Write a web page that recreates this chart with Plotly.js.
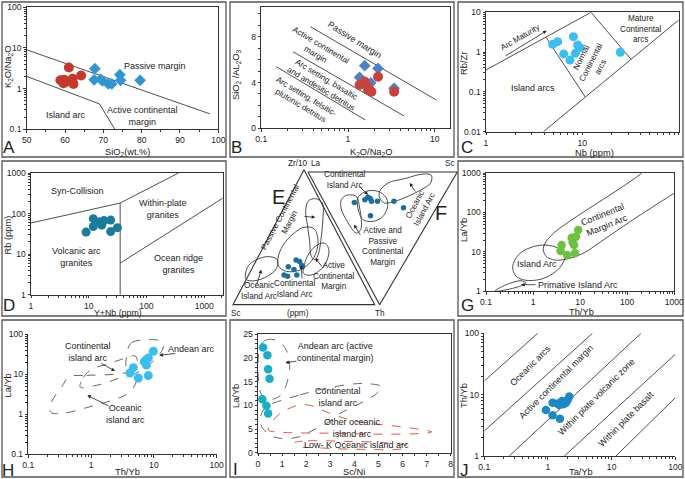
<!DOCTYPE html>
<html><head><meta charset="utf-8">
<script src="https://cdn.plot.ly/plotly-3.0.1.min.js"></script>
<style>html,body{margin:0;padding:0;background:#fff}#chart{width:685px;height:479px}</style>
</head><body><div id="chart"></div>
<script>
const F = 'Liberation Sans, Arial, sans-serif';
const W = 685, H = 479;

// ================= DATA =================
// A: SiO2 vs K2O/Na2O
const A_redSiO2 = [61.0, 58.8, 59.8, 59.6, 62.0, 62.2, 64.2, 60.2];
const A_redK2ONa2O = [3.3, 1.6, 1.65, 1.35, 1.75, 1.3, 2.1, 1.45];
const A_blueSiO2 = [67.8, 67.6, 69.3, 69.8, 71.3, 72.2, 74.3, 74.5, 79.6];
const A_blueK2ONa2O = [3.1, 1.65, 1.7, 1.55, 1.3, 1.3, 2.2, 1.6, 1.6];
const A_upperX = [50, 97.8], A_upperY = [9, 0.24];
const A_lowerX = [50, 69, 73], A_lowerY = [2.0, 0.42, 0.1];
const A_xTicks = [50, 60, 70, 80, 90, 100];
const A_yTicks = [0.1, 1, 10, 100], A_yText = ['0.1', '1', '10', '100'];

// B: K2O/Na2O vs SiO2/Al2O3
const B_blueK2ONa2O = [1.56, 2.22, 1.36, 1.83, 3.4];
const B_blueSiAl = [5.47, 5.23, 4.45, 3.98, 3.49];
const B_redK2ONa2O = [2.22, 1.36, 1.56, 1.70, 1.86, 1.75, 3.4];
const B_redSiAl = [4.5, 3.78, 4.07, 3.34, 3.2, 3.5, 3.2];
const B_line1X = [0.37, 10.45], B_line1Y = [8.87, 2.47];
const B_line2X = [0.232, 4.43], B_line2Y = [6.69, 1.08];
const B_line3X = [0.149, 1.585], B_line3Y = [5.38, 0.73];
const B_xTicks = [0.1, 1, 10], B_xText = ['0.1', '1', '10'];
const B_yTicks = [0, 4, 8];

// C: Nb vs Rb/Zr
const C_Nb = [4.92, 5.55, 6.4, 7.45, 8.07, 8.46, 8.95, 9.46, 24.8];
const C_RbZr = [1.57, 1.83, 0.9, 0.63, 2.44, 0.93, 1.51, 1.29, 0.99];
const C_l1X = [1, 12.3], C_l1Y = [0.355, 10];
const C_l2X = [4.2, 10.7], C_l2Y = [2.35, 0.075];
const C_l3X = [12.3, 32], C_l3Y = [10, 0.66];
const C_l4X = [3.94, 100], C_l4Y = [0.01, 6.4];
const C_xTicks = [1, 10, 100], C_xText = ['1', '10', '100'];
const C_yTicks = [0.01, 0.1, 1, 10], C_yText = ['0.01', '0.1', '1', '10'];

// D: Y+Nb vs Rb
const D_YNb = [9.0, 12.0, 12.0, 15.7, 16.8, 18.4, 24, 24, 31.4];
const D_Rb = [35, 75, 48, 63, 52, 67, 69, 36, 45];
const D_synX = [1, 35, 359], D_synY = [58.5, 182, 1000];
const D_vertX = [35, 35], D_vertY = [182, 1];
const D_orgX = [35, 2100], D_orgY = [6.0, 240];
const D_ticks = [1, 10, 100, 1000], D_text = ['1', '10', '100', '1000'];

// E: Zr/10 - Th - Sc ternary (percent)
const E_Zr = [33, 32, 29, 28, 28, 26, 22, 21, 22];
const E_Th = [28, 31, 34, 35, 25, 30, 25, 28, 34];
const E_Sc = [39, 37, 37, 37, 47, 44, 53, 51, 44];
// F: La - Th - Sc ternary (percent)
const F_La = [57, 51, 50, 48, 46, 42, 31, 22, 41];
const F_Th = [23, 21, 19, 20, 22, 22, 22, 27, 33];
const F_Sc = [20, 28, 31, 32, 32, 36, 47, 51, 26];
// field outlines (diagram units)
const E_passiveX = [240,262,283,285,280,272,262,250,245,238,233,240];
const E_passiveY = [130,122,135,180,235,285,305,295,250,200,160,130];
const E_contIAX = [150,165,195,228,258,270,262,240,210,175,152,150];
const E_contIAY = [300,262,228,208,212,245,290,320,338,340,325,300];
const E_oceanicX = [52,62,92,125,148,145,118,80,55,52];
const E_oceanicY = [352,322,302,296,305,332,355,368,365,352];
const E_activeX = [226,238,262,288,302,296,272,243,226,226];
const E_activeY = [335,295,265,255,272,310,340,352,345,335];
const F_oceanicX = [455,480,530,585,610,608,580,540,500,470,455,455];
const F_oceanicY = [100,75,62,48,52,75,95,115,130,135,120,100];
const F_contIAX = [390,415,450,475,478,462,435,405,392,388,390];
const F_contIAY = [118,100,100,120,150,178,190,185,160,135,118];
const F_actPasX = [340,355,385,395,400,398,385,370,355,342,338,340];
const F_actPasY = [125,112,115,150,185,215,225,210,185,160,140,125];

// G: Th/Yb vs La/Yb
const G_ThYb = [4.05, 3.85, 5.3, 7.76, 6.6, 8.15, 6.93, 7.4, 9.1];
const G_LaYb = [14.9, 10.5, 8.3, 9.2, 22.8, 24.2, 17.4, 14.9, 35.7];
const G_cmaX = [202,114,43,13.7,5.2,2.7,1.79,1.65,1.95,2.92,5.2,11.6,30.9,114,356,977];
const G_cmaY = [980,601,277,115,53,29.5,16.4,11.1,7.5,6.2,6.6,9.2,20,58,140,305];
const G_iaX = [0.369,0.485,0.86,1.79,3.43,4.75,4.05,2.68,1.40,0.673,0.434,0.369];
const G_iaY = [4.19,8.3,12.7,14.9,12.3,8.0,4.6,2.85,2.0,1.92,2.43,4.19];
const G_piaX = [0.157,0.266,0.553,0.706,0.509,0.266,0.178,0.157];
const G_piaY = [1.03,1.46,1.85,1.61,1.33,1.09,1.01,1.03];
const G_xTicks = [0.1, 1, 10, 100, 1000], G_xText = ['0.1', '1', '10', '100', '1000'];
const G_yTicks = [1, 10, 100, 1000], G_yText = ['1', '10', '100', '1000'];

// H: Th/Yb vs La/Yb
const H_ThYb = [4.16, 4.7, 5.65, 7.0, 7.6, 7.5, 8.15, 8.15, 9.8];
const H_LaYb = [10.8, 14.6, 8.1, 20.5, 17.0, 23.0, 25.5, 9.3, 37.6];
const H_andeanX = [3.83,4.43,6.79,11.8,14.2,13.8,12.2,9.2,6.0,4.43,3.6,3.69,3.83];
const H_andeanY = [42.2,61.9,72.2,70.8,59.6,42.2,31.6,19.6,12.1,10,16.2,28.7,42.2];
const H_contX = [0.665,0.751,1.02,1.77,3.07,5.0,5.45,4.43,2.88,1.77,1.09,0.708,0.665];
const H_contY = [4.9,8.3,13.3,17.8,23.7,28.7,21.5,12.1,8.3,6.2,5.1,4.6,4.9];
const H_oceX = [0.434,0.85,2.0,4.17,5.32,4.71,3.69,2.0,0.85,0.361,0.235,0.216,0.266,0.361,0.434];
const H_oceY = [8.6,9.4,9.8,10.6,8.3,4.6,3.16,2.15,1.47,1.06,1.1,1.47,2.87,5.6,8.6];
const H_ticks = [0.1, 1, 10, 100], H_text = ['0.1', '1', '10', '100'];

// I: Sc/Ni vs La/Yb
const I_ScNi = [0.21, 0.39, 0.42, 0.48, 0.18, 0.35, 0.42];
const I_LaYb = [22.2, 20.6, 17.6, 15.6, 11.3, 9.9, 8.3];
const I_andeanX = [0.138,0.346,0.623,0.969,1.246,1.315,1.176,0.969,0.692,0.346,0.138,0.028,0,0.028,0.138];
const I_andeanY = [22.9,23.8,23.9,23.1,20.8,17.6,14.4,12.3,11.4,11.3,12.3,14.8,18.3,21.1,22.9];
const I_contX = [0.498,1.744,3.128,4.374,5.135,4.927,4.235,3.405,2.851,2.298,1.744,0.983,0.498,0.152,0.083,0.2,0.498];
const I_contY = [10.1,12.2,13.9,14.6,13.9,12.5,10.4,8.3,6.2,4.8,3.4,3.0,3.7,5.5,6.9,8.8,10.1];
const I_otherX = [0.429,0.637,1.052,1.744,2.228,3.128,4.235,5.896,6.865,7.211,6.865,5.204,3.46,1.52,0.69,0.429];
const I_otherY = [4.8,6.9,8.7,10.1,9.9,8.0,6.5,5.5,4.8,4.4,4.1,3.9,4.1,4.2,4.4,4.8];
const I_lowKX = [1.52,2.076,3.6,5.26,6.23,6.02,4.29,2.63,1.66,1.52];
const I_lowKY = [2.1,2.5,2.4,2.1,1.4,0.85,0.7,1.0,1.4,2.1];

// J: Ta/Yb vs Th/Yb
const J_TaYb = [0.93, 1.18, 1.18, 1.42, 1.50, 1.54, 1.66, 1.74, 1.92, 2.04, 2.16];
const J_ThYb = [5.6, 7.4, 4.6, 7.2, 6.8, 4.06, 7.9, 7.0, 7.4, 8.2, 9.3];
const J_l1X = [0.1, 0.69], J_l1Y = [16.7, 100];
const J_l2X = [0.1, 5.0], J_l2Y = [2.56, 100];
const J_l3X = [0.247, 28.9], J_l3Y = [1, 100];
const J_l4X = [1.81, 100], J_l4Y = [1, 45.5];
const J_l5X = [11.7, 100], J_l5Y = [1, 8.9];
const J_xTicks = [0.1, 1, 10, 100], J_xText = ['0.1', '1', '10', '100'];
const J_yTicks = [1, 10, 100], J_yText = ['1', '10', '100'];

// ================= HELPERS =================
const dx = (a, b) => [a / W, b / W];
const dy = (top, bot) => [1 - bot / H, 1 - top / H];
function lin(x, y, xa, ya, o) {
  const t = {type:'scatter', mode:'lines', x, y, xaxis:xa, yaxis:ya,
    line:{color:'#3a3a3a', width:0.9}, hoverinfo:'skip', showlegend:false};
  if (o) t.line = Object.assign(t.line, o);
  return t;
}
function pts(x, y, xa, ya, color, size, symbol) {
  return {type:'scatter', mode:'markers', x, y, xaxis:xa, yaxis:ya,
    marker:{color, size, symbol:symbol || 'circle', line:{width:0}}, showlegend:false};
}
const loop = {shape:'spline', smoothing:1};
const dashK = {shape:'spline', smoothing:1, dash:'dash', color:'#555', width:0.9};
const dashR = {shape:'spline', smoothing:1, dash:'dash', color:'#d9452f', width:0.9};

const base = {showgrid:false, zeroline:false, showline:true, linecolor:'#333', linewidth:1,
  ticks:'outside', ticklen:2.5, tickwidth:1, tickcolor:'#333',
  tickfont:{family:F, size:8.6, color:'#222'}, fixedrange:true, automargin:false};
function logAx(dom, range, vals, text, mirror, anchor) {
  return Object.assign({}, base, {domain:dom, type:'log', range, tickmode:'array', tickvals:vals, ticktext:text,
    minor:{ticks:'outside', ticklen:2, tickcolor:'#333', dtick:'D1', showgrid:false},
    mirror:!!mirror, anchor});
}
function linAx(dom, range, opts, mirror, anchor) {
  return Object.assign({}, base, {domain:dom, type:'linear', range, mirror:!!mirror, anchor}, opts);
}
function lab(px, py, text, o) {
  return Object.assign({xref:'paper', yref:'paper', x:px / W, y:1 - py / H, text, showarrow:false,
    font:{family:F, size:9, color:'#222'}, xanchor:'center', yanchor:'middle'}, o || {});
}
function small(px, py, text, o) { return lab(px, py, text, Object.assign({font:{family:F, size:8.2, color:'#222'}}, o || {})); }
function xt(px, py, text, s) { return lab(px, py, text, {font:{family:F, size:s || 9.3, color:'#222'}}); }
function yt(px, py, text) { return lab(px, py, text, {font:{family:F, size:9.3, color:'#222'}, textangle:-90}); }
function arr(hx, hy, tx, ty) {
  return {xref:'paper', yref:'paper', x:hx / W, y:1 - hy / H, ax:tx - hx, ay:ty - hy, text:'',
    showarrow:true, arrowhead:2, arrowsize:0.9, arrowwidth:0.8, arrowcolor:'#222'};
}
function letter(px, py, t, s) { return lab(px, py, t, {font:{family:F, size:s || 17, color:'#222'}}); }

// ternary conversion into diagram units
const E_vZr = [228, 35], E_vSc = [15, 440], E_vTh = [440, 440];
const F_vLa = [240, 42], F_vSc = [688, 42], F_vTh = [455, 440];
function tern(a, b, c, Va, Vb, Vc) {
  const xs = [], ys = [];
  for (let i = 0; i < a.length; i++) {
    const s = a[i] + b[i] + c[i];
    xs.push((a[i] * Va[0] + b[i] * Vb[0] + c[i] * Vc[0]) / s);
    ys.push((a[i] * Va[1] + b[i] * Vb[1] + c[i] * Vc[1]) / s);
  }
  return [xs, ys];
}
const Ep = tern(E_Zr, E_Sc, E_Th, E_vZr, E_vSc, E_vTh);
const Fp = tern(F_La, F_Sc, F_Th, F_vLa, F_vSc, F_vTh);

// ================= TRACES =================
const traces = [
  // A
  lin(A_upperX, A_upperY, 'x', 'y'), lin(A_lowerX, A_lowerY, 'x', 'y'),
  pts(A_redSiO2, A_redK2ONa2O, 'x', 'y', '#c4382e', 10),
  pts(A_blueSiO2, A_blueK2ONa2O, 'x', 'y', '#2f95d3', 9, 'diamond'),
  // B
  lin(B_line1X, B_line1Y, 'x2', 'y2'), lin(B_line2X, B_line2Y, 'x2', 'y2'), lin(B_line3X, B_line3Y, 'x2', 'y2'),
  pts(B_blueK2ONa2O, B_blueSiAl, 'x2', 'y2', '#4f80c4', 9, 'diamond'),
  pts(B_redK2ONa2O, B_redSiAl, 'x2', 'y2', '#c8433b', 10),
  // C
  lin(C_l1X, C_l1Y, 'x3', 'y3'), lin(C_l2X, C_l2Y, 'x3', 'y3'), lin(C_l3X, C_l3Y, 'x3', 'y3'), lin(C_l4X, C_l4Y, 'x3', 'y3'),
  pts(C_Nb, C_RbZr, 'x3', 'y3', '#3cbdf0', 9),
  // D
  lin(D_synX, D_synY, 'x4', 'y4'), lin(D_vertX, D_vertY, 'x4', 'y4'), lin(D_orgX, D_orgY, 'x4', 'y4'),
  pts(D_YNb, D_Rb, 'x4', 'y4', '#1a7c9c', 9),
  // E / F
  lin([E_vZr[0], E_vSc[0], E_vTh[0], E_vZr[0]], [E_vZr[1], E_vSc[1], E_vTh[1], E_vZr[1]], 'x5', 'y5', {width:1.1, color:'#333'}),
  lin([F_vLa[0], F_vSc[0], F_vTh[0], F_vLa[0]], [F_vLa[1], F_vSc[1], F_vTh[1], F_vLa[1]], 'x5', 'y5', {width:1.1, color:'#333'}),
  lin(E_passiveX, E_passiveY, 'x5', 'y5', loop), lin(E_contIAX, E_contIAY, 'x5', 'y5', loop),
  lin(E_oceanicX, E_oceanicY, 'x5', 'y5', loop), lin(E_activeX, E_activeY, 'x5', 'y5', loop),
  lin(F_oceanicX, F_oceanicY, 'x5', 'y5', loop), lin(F_contIAX, F_contIAY, 'x5', 'y5', loop),
  lin(F_actPasX, F_actPasY, 'x5', 'y5', loop),
  pts(Ep[0], Ep[1], 'x5', 'y5', '#1c6e9e', 5.5),
  pts(Fp[0], Fp[1], 'x5', 'y5', '#1c6e9e', 5.5),
  // G
  lin(G_cmaX, G_cmaY, 'x6', 'y6', loop), lin(G_iaX, G_iaY, 'x6', 'y6', loop), lin(G_piaX, G_piaY, 'x6', 'y6', loop),
  pts(G_ThYb, G_LaYb, 'x6', 'y6', '#6cc13f', 8.5),
  // H
  lin(H_andeanX, H_andeanY, 'x7', 'y7', dashK), lin(H_contX, H_contY, 'x7', 'y7', dashK), lin(H_oceX, H_oceY, 'x7', 'y7', dashK),
  pts(H_ThYb, H_LaYb, 'x7', 'y7', '#3bbdf0', 9),
  // I
  lin(I_andeanX, I_andeanY, 'x8', 'y8', dashK), lin(I_contX, I_contY, 'x8', 'y8', dashK),
  lin(I_otherX, I_otherY, 'x8', 'y8', dashR), lin(I_lowKX, I_lowKY, 'x8', 'y8', dashR),
  pts(I_ScNi, I_LaYb, 'x8', 'y8', '#17aec6', 8.5),
  // J
  lin(J_l1X, J_l1Y, 'x9', 'y9'), lin(J_l2X, J_l2Y, 'x9', 'y9'), lin(J_l3X, J_l3Y, 'x9', 'y9'),
  lin(J_l4X, J_l4Y, 'x9', 'y9'), lin(J_l5X, J_l5Y, 'x9', 'y9'),
  pts(J_TaYb, J_ThYb, 'x9', 'y9', '#1e88c6', 8.5)
];

// ================= LAYOUT =================
const panelBoxes = [[2,2,226,157],[230,2,454,157],[458,2,683,157],[2,161,226,316],[458,161,683,316],[2,320,226,477],[230,320,454,477],[458,320,683,477]];
const shapes = panelBoxes.map(b => ({type:'rect', xref:'paper', yref:'paper', x0:b[0]/W, x1:b[2]/W, y0:1-b[3]/H, y1:1-b[1]/H, line:{color:'#555', width:1.3}}));

const annotations = [
  // A
  lab(155, 66, 'Passive margin'), lab(66, 115, 'Island arc'), lab(142, 116, 'Active continental<br>margin'),
  xt(127, 152.5, 'SiO<sub>2</sub>(wt.%)'), yt(8, 67, 'K<sub>2</sub>O/Na<sub>2</sub>O'),
  letter(9, 147, 'A'),
  // B
  lab(355, 40, 'Passive margin', {textangle:32}),
  small(318, 50, 'Active continental<br>margin', {textangle:31}),
  small(323, 84, 'Arc setting, basaltic<br>and andesitic detritus', {textangle:31}),
  small(303, 101, 'Arc setting, felsitic-<br>plutonic detritus', {textangle:31}),
  xt(371, 152.5, 'K<sub>2</sub>O/Na<sub>2</sub>O'), yt(237, 75, 'SiO<sub>2</sub> /AL<sub>2</sub>O<sub>3</sub>'),
  letter(236, 147, 'B'),
  // C
  small(520, 37, 'Arc Maturity', {textangle:-30}), arr(546.7, 30.7, 504.3, 56.7),
  lab(533, 88, 'Island arcs'), small(591, 62, 'Normal<br>Continental<br>arcs', {textangle:-63}),
  small(641, 29, 'Mature<br>Continental<br>arcs'),
  xt(594, 152.5, 'Nb (ppm)'), yt(464, 64, 'Rb/Zr'),
  letter(467, 147, 'C'),
  // D
  lab(77, 191, 'Syn-Collision'), lab(163, 208.5, 'Within-plate<br>granites'),
  lab(76, 257, 'Volcanic arc<br>granites'), lab(178, 263.5, 'Ocean ridge<br>granites'),
  xt(118, 313, 'Y+Nb (ppm)', 8.8), yt(7.5, 235, 'Rb (ppm)'),
  letter(9, 305, 'D'),
  // E / F
  small(298, 164, 'Zr/10'), small(316, 164, 'La'), small(450, 164, 'Sc'),
  small(236, 313, 'Sc'), small(298, 313, '(ppm)'), small(380, 313, 'Th'),
  letter(278, 197, 'E', 20), letter(441, 213, 'F', 20),
  small(285, 220, 'Passive Continental<br>Margin', {textangle:-62}), arr(315.3, 217.3, 303, 216.3),
  small(258.5, 291.3, 'Oceanic<br>Island Arc'), arr(261.3, 269.7, 256.3, 286),
  small(295, 288.7, 'Continental<br>Island Arc'), arr(301.5, 265, 302, 280),
  small(334, 276.3, 'Active<br>Continental<br>Margin'), arr(315.3, 258, 323, 268),
  small(344.7, 180, 'Continental<br>Island Arc'), arr(368, 194.7, 358, 185),
  small(420, 207, 'Oceanic<br>Island Arc', {textangle:-62}), arr(409.7, 183, 416.3, 193),
  small(383, 246, 'Active and<br>Passive<br>Continental<br>Margin'), arr(354, 224.7, 361.3, 236.3),
  // G
  lab(605, 220, 'Continental<br>Margin Arc', {textangle:-22}), lab(537, 264.3, 'Island Arc'),
  lab(578, 284.7, 'Primative Island Arc'), arr(521, 284.7, 537, 284.7),
  xt(581, 312.3, 'Th/Yb'), yt(464, 230, 'La/Yb'),
  letter(467, 305, 'G'),
  // H
  lab(88, 351.5, 'Continental<br>island arc'), arr(115, 371, 100, 362.7),
  lab(191, 348.5, 'Andean arc'), arr(159.3, 355.3, 176.7, 353.3),
  lab(125, 414, 'Oceanic<br>island arc'), arr(87.3, 395.3, 110, 406.7),
  xt(127, 472, 'Th/Yb'), yt(7.5, 386, 'La/Yb'),
  letter(8, 470, 'H'),
  // I
  lab(335, 352, 'Andean arc (active<br>continental margin)'), arr(285.3, 362.7, 298, 361),
  lab(338, 396.5, 'Continental<br>island arc'),
  lab(353, 428, 'Other oceanic<br>island arc'),
  lab(356.3, 444.5, 'Low- K Oceanic island arc'),
  xt(354, 472, 'Sc/Ni'), yt(236, 396, 'La/Yb'),
  letter(235, 469, 'I'),
  // J
  lab(530, 366, 'Oceanic arcs', {textangle:-45}),
  lab(556, 382, 'Active continental margin', {textangle:-45}),
  lab(596, 396.5, 'Within plate volcanic zone', {textangle:-45}),
  lab(626, 419, 'Within plate basalt', {textangle:-45}),
  xt(581, 472, 'Ta/Yb'), yt(464, 396, 'Th/Yb'),
  letter(464, 470, 'J')
];

const layout = {
  width:W, height:H, margin:{l:0, r:0, t:0, b:0}, paper_bgcolor:'#fff', plot_bgcolor:'rgba(0,0,0,0)',
  showlegend:false, font:{family:F, color:'#222'},
  // A
  xaxis: linAx(dx(26.7, 218.3), [50, 100], {tickmode:'array', tickvals:A_xTicks, minor:{ticks:'outside', ticklen:2, dtick:5, tickcolor:'#333'}}, true, 'y'),
  yaxis: logAx(dy(7.3, 129.3), [-1, 2], A_yTicks, A_yText, true, 'x'),
  // B
  xaxis2: logAx(dx(261.3, 449.7), [-1, 1.173], B_xTicks, B_xText, true, 'y2'),
  yaxis2: linAx(dy(7.3, 128.3), [0, 10.57], {tickmode:'array', tickvals:B_yTicks, minor:{ticks:'outside', ticklen:2, dtick:1, tickcolor:'#333'}}, true, 'x2'),
  // C
  xaxis3: logAx(dx(486, 678.7), [0, 2], C_xTicks, C_xText, true, 'y3'),
  yaxis3: logAx(dy(12.3, 131.7), [-2, 1], C_yTicks, C_yText, true, 'x3'),
  // D
  xaxis4: logAx(dx(31, 222.7), [0, 3.32], D_ticks, D_text, true, 'y4'),
  yaxis4: logAx(dy(173, 294.7), [0, 3], D_ticks, D_text, true, 'x4'),
  // E/F diagram
  xaxis5: {domain:dx(228, 458), range:[0, 690], visible:false, fixedrange:true, anchor:'y5'},
  yaxis5: {domain:dy(158, 318), range:[480, 0], visible:false, fixedrange:true, anchor:'x5'},
  // G
  xaxis6: logAx(dx(486, 674.3), [-1, 3], G_xTicks, G_xText, true, 'y6'),
  yaxis6: logAx(dy(173, 291.3), [0, 3], G_yTicks, G_yText, true, 'x6'),
  // H
  xaxis7: logAx(dx(28.3, 216.7), [-1, 2], H_ticks, H_text, false, 'y7'),
  yaxis7: logAx(dy(334.3, 454.3), [-1, 2], H_ticks, H_text, false, 'x7'),
  // I
  xaxis8: linAx(dx(258, 450.7), [0, 8], {dtick:1, tick0:0, minor:{ticks:'outside', ticklen:2, dtick:0.5, tickcolor:'#333'}}, true, 'y8'),
  yaxis8: linAx(dy(334.3, 452.7), [0, 25], {dtick:5, tick0:0, minor:{ticks:'outside', ticklen:2, dtick:1, tickcolor:'#333'}}, true, 'x8'),
  // J
  xaxis9: logAx(dx(484.3, 675.3), [-1, 2], J_xTicks, J_xText, false, 'y9'),
  yaxis9: logAx(dy(333.3, 456), [0, 2], J_yTicks, J_yText, false, 'x9'),
  shapes, annotations
};

Plotly.newPlot('chart', traces, layout, {staticPlot:true, displayModeBar:false});
</script>
</body></html>
